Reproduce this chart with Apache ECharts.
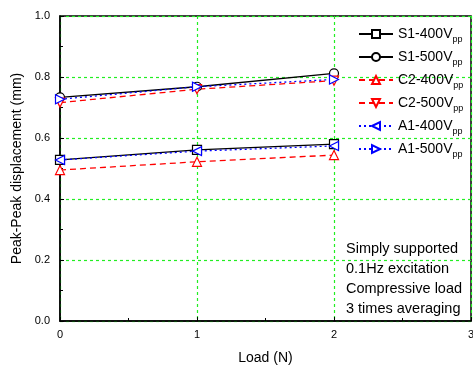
<!DOCTYPE html>
<html>
<head>
<meta charset="utf-8">
<script src="https://cdn.jsdelivr.net/npm/echarts@6/dist/echarts.min.js"></script>
<style>
  html, body { margin: 0; padding: 0; background: #fff; }
  #chart { width: 473px; height: 365px; }
</style>
</head>
<body>
<div id="chart"></div>
<script>
const loads = [0, 1, 2];
const s1_400 = [0.528, 0.561, 0.580];
const s1_500 = [0.733, 0.768, 0.812];
const c2_400 = [0.495, 0.522, 0.544];
const c2_500 = [0.716, 0.760, 0.788];
const a1_400 = [0.528, 0.557, 0.574];
const a1_500 = [0.727, 0.768, 0.792];
const notes = ['Simply supported', '0.1Hz excitation', 'Compressive load', '3 times averaging'];

const chart = echarts.init(document.getElementById('chart'));
const font = 'Liberation Sans, Arial, sans-serif';

function mk(name, vals, color, dash, symbol, rot) {
  return {
    name: name,
    type: 'line',
    data: loads.map((x, i) => [x, vals[i]]),
    symbol: symbol,
    symbolSize: 9,
    symbolRotate: rot,
    lineStyle: { color: color, width: 1.3, type: dash },
    itemStyle: { color: '#fff', borderColor: color, borderWidth: 1.2 },
    emphasis: { disabled: true }
  };
}

const series = [
  mk('S1-400V', s1_400, '#000', 'solid', 'rect', 0),
  mk('S1-500V', s1_500, '#000', 'solid', 'circle', 0),
  mk('C2-400V', c2_400, '#ff0000', [6, 4], 'triangle', 0),
  mk('C2-500V', c2_500, '#ff0000', [6, 4], 'triangle', 180),
  mk('A1-400V', a1_400, '#0000ff', [2, 3], 'triangle', 90),
  mk('A1-500V', a1_500, '#0000ff', [2, 3], 'triangle', -90)
];

const gridLine = { show: true, lineStyle: { color: '#22ee22', type: [3, 3], width: 1.2 } };

chart.setOption({
  animation: false,
  grid: {
    left: 60, right: 2, top: 16, bottom: 44,
    outerBoundsMode: 'none', containLabel: false,
    show: true, borderColor: '#000', borderWidth: 1.5
  },
  legend: {
    left: 353, top: 22, orient: 'vertical',
    itemWidth: 34, itemHeight: 10, itemGap: 5.5,
    formatter: n => '{a|' + n + '}{s|pp}',
    textStyle: {
      rich: {
        a: { fontFamily: font, fontSize: 14, color: '#000', height: 14 },
        s: { fontFamily: font, fontSize: 9, color: '#000', verticalAlign: 'bottom', padding: [12, 0, 0, 0], height: 14 }
      }
    }
  },
  xAxis: {
    type: 'value', min: 0, max: 3, interval: 1,
    name: 'Load (N)', nameLocation: 'middle', nameGap: 30,
    nameTextStyle: { fontFamily: font, fontSize: 14, color: '#000' },
    axisLine: { lineStyle: { color: '#000', width: 1.5 } },
    axisTick: { inside: true, length: 4, lineStyle: { color: '#000' } },
    minorTick: { show: true, splitNumber: 2, length: 3, lineStyle: { color: '#000' } },
    axisLabel: { fontFamily: font, fontSize: 11, color: '#000', margin: 8 },
    splitLine: gridLine
  },
  yAxis: {
    type: 'value', min: 0, max: 1, interval: 0.2,
    name: 'Peak-Peak displacement (mm)', nameLocation: 'middle', nameGap: 32,
    nameTextStyle: { fontFamily: font, fontSize: 14, color: '#000' },
    axisLine: { show: true, lineStyle: { color: '#000', width: 1.5 } },
    axisTick: { show: true, inside: true, length: 4, lineStyle: { color: '#000' } },
    minorTick: { show: true, splitNumber: 2, length: 3, lineStyle: { color: '#000' } },
    axisLabel: { fontFamily: font, fontSize: 11, color: '#000', margin: 10, formatter: v => v.toFixed(1) },
    splitLine: gridLine
  },
  graphic: notes.map((t, i) => ({
    type: 'text', left: 346, top: 241 + i * 20,
    style: { text: t, font: '14.5px ' + font, fill: '#000' }
  })),
  series: series
});
</script>
</body>
</html>
